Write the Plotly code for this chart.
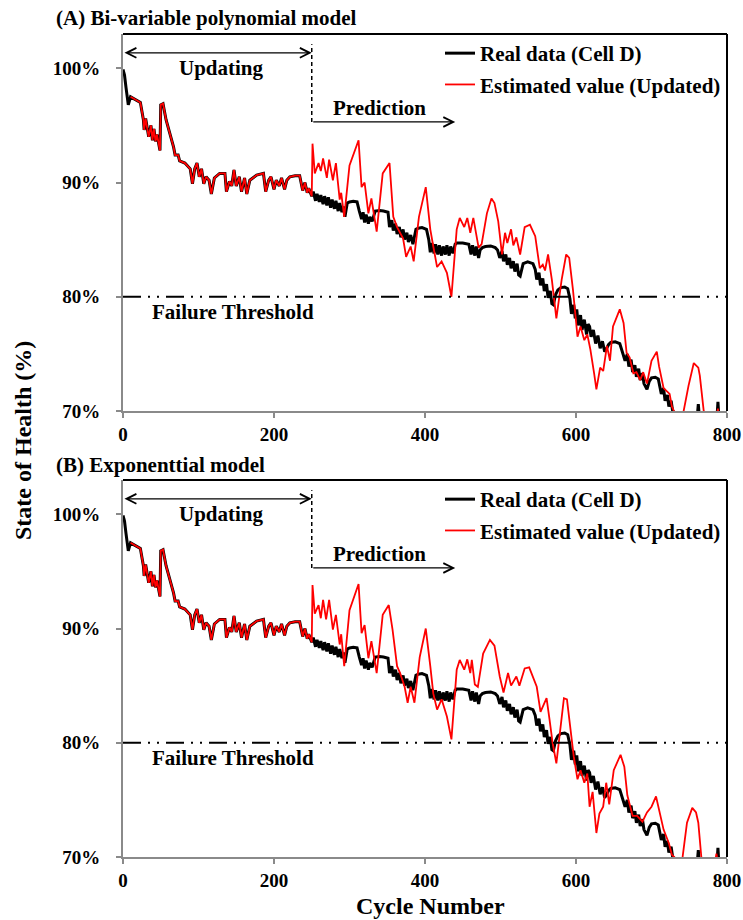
import plotly.graph_objects as go

# ---------------- data ----------------
start_cycles = [0, 2, 4, 6, 7]
start_soh = [99.9, 99.4, 98.3, 97.1, 96.8]

# updating phase (estimate follows the measured data)
update_cycles = [10, 16, 23, 27, 28, 30, 34, 37, 39, 41,
                 43, 45, 49, 50, 53, 57, 60, 63, 67, 69,
                 73, 75, 82, 89, 92, 95, 98, 101, 104, 107,
                 110, 114, 117, 121, 128, 135, 137, 141, 144, 147,
                 150, 154, 157, 161, 164, 168, 177, 186, 189, 193,
                 196, 200, 203, 207, 210, 214, 217, 221, 228, 234,
                 238, 241, 244, 246, 250]
update_soh = [97.5, 97.3, 97.0, 95.5, 94.6, 95.6, 94.0, 95.0, 93.7, 94.7,
              93.6, 94.2, 92.8, 96.8, 96.9, 95.5, 94.8, 94.0, 93.1, 92.4,
              92.4, 91.9, 91.7, 91.2, 89.9, 91.2, 91.7, 90.5, 91.2, 89.9,
              90.5, 90.2, 89.0, 90.4, 90.8, 90.8, 89.2, 90.1, 89.7, 91.1,
              89.7, 90.5, 89.2, 90.4, 89.0, 90.2, 90.65, 90.8, 89.2, 90.2,
              90.5, 89.4, 90.2, 89.7, 90.4, 89.4, 90.2, 90.5, 90.6, 90.6,
              89.3, 90.0, 89.1, 89.5, 88.8]

# measured data after cycle 250
real_pred_cycles = [252, 255, 257, 260, 262, 265, 267, 270, 272, 275,
                    277, 280, 282, 285, 287, 290, 292, 294, 297, 300,
                    305, 310, 313, 316, 318, 320, 322, 325, 327, 330,
                    334, 340, 345, 351, 353, 356, 358, 361, 363, 366,
                    368, 371, 373, 376, 378, 381, 384, 388, 391, 396,
                    402, 405, 407, 409, 412, 414, 417, 419, 422, 424,
                    427, 429, 432, 434, 437, 440, 442, 450, 458, 461,
                    463, 466, 468, 471, 473, 476, 480, 487, 493, 496,
                    499, 502, 504, 507, 509, 512, 514, 517, 519, 522,
                    524, 526, 530, 536, 543, 546, 548, 551, 553, 556,
                    558, 561, 563, 566, 568, 570, 573, 576, 580, 585,
                    589, 592, 594, 597, 599, 601, 603, 606, 608, 611,
                    614, 616, 618, 620, 623, 626, 629, 632, 635, 638,
                    640, 643, 646, 652, 658, 661, 665, 668, 670, 673,
                    675, 678, 680, 683, 685, 688, 690, 694, 697, 700,
                    705, 709, 711, 713, 716, 718, 721, 723, 726, 728,
                    732, 736, 745, 755, 760, 762, 764, 770, 780, 786,
                    788, 790]
real_pred_soh = [89.2, 88.4, 89.0, 88.3, 88.9, 88.1, 88.8, 88.0, 88.7, 87.8,
                 88.5, 87.7, 88.4, 87.5, 88.2, 87.4, 87.9, 87.0, 88.2, 88.3,
                 88.35, 88.3, 87.5, 86.8, 87.4, 86.5, 87.2, 86.4, 87.0, 86.6,
                 87.5, 87.55, 87.5, 87.4, 86.1, 86.7, 85.8, 86.4, 85.5, 86.1,
                 85.2, 85.9, 85.0, 85.6, 84.8, 85.4, 84.6, 85.9, 86.0, 86.05,
                 85.9, 85.0, 83.9, 84.7, 83.8, 84.6, 83.7, 84.5, 83.6, 84.4,
                 83.7, 84.5, 83.6, 84.4, 83.8, 84.6, 84.7, 84.7, 84.6, 83.7,
                 84.5, 83.6, 84.4, 83.4, 84.1, 84.3, 84.4, 84.45, 84.3, 84.1,
                 83.4, 84.0, 83.1, 83.7, 82.8, 83.4, 82.5, 83.1, 82.2, 82.9,
                 81.9, 81.8, 82.9, 83.05, 82.9, 82.4, 81.5, 82.1, 81.0, 81.6,
                 80.5, 81.1, 79.9, 80.5, 79.4, 79.3, 80.2, 80.6, 80.8, 80.85,
                 80.7, 79.8, 78.5, 79.3, 78.1, 78.9, 77.5, 78.4, 77.1, 78.0,
                 76.7, 77.6, 77.4, 76.5, 77.1, 75.9, 76.6, 75.5, 76.1, 75.2,
                 75.4, 75.8, 76.0, 76.05, 75.9, 75.3, 74.4, 75.0, 73.9, 74.5,
                 73.4, 74.0, 73.0, 73.7, 72.7, 73.3, 72.4, 71.9, 72.6, 72.9,
                 72.95, 72.8, 72.1, 71.5, 72.0, 70.9, 71.4, 70.4, 70.9, 70.0,
                 69.8, 69.5, 69.3, 69.2, 69.0, 70.6, 69.0, 68.8, 68.7, 68.6,
                 70.8, 68.6]

# (A) bi-variable polynomial model, estimate after cycle 250
estA_pred_cycles = [251, 254, 259, 262, 265, 270, 273, 278, 282, 287,
                    289, 293, 300, 307, 312, 316, 320, 325, 329, 336,
                    344, 353, 358, 363, 371, 375, 381, 385, 392, 401,
                    407, 411, 416, 422, 429, 435, 442, 446, 452, 456,
                    460, 464, 471, 475, 482, 488, 492, 497, 502, 506,
                    509, 514, 517, 521, 526, 532, 539, 546, 552, 556,
                    559, 563, 568, 574, 581, 587, 591, 596, 602, 606,
                    611, 615, 619, 624, 627, 632, 636, 641, 645, 649,
                    658, 663, 667, 671, 676, 680, 685, 689, 694, 700,
                    707, 710, 716, 724, 727, 731, 742, 749, 756, 762,
                    764, 769, 772, 785, 788, 790]
estA_pred_soh = [93.4, 90.8, 91.7, 91.0, 92.1, 90.4, 92.0, 90.2, 91.7, 88.5,
                 89.1, 87.0, 91.5, 92.7, 93.7, 89.6, 90.0, 87.3, 88.6, 85.7,
                 90.8, 91.7, 87.0, 86.1, 85.1, 83.5, 84.4, 83.1, 87.0, 89.6,
                 85.9, 84.4, 82.6, 83.1, 82.1, 80.0, 85.9, 86.9, 86.1, 86.9,
                 85.6, 86.9, 84.3, 84.6, 87.3, 88.6, 88.2, 86.6, 83.7, 85.6,
                 84.7, 85.9, 84.5, 85.2, 83.7, 86.1, 86.3, 85.3, 82.5, 82.8,
                 82.3, 83.7, 81.5, 78.1, 81.5, 83.7, 83.4, 80.6, 76.5, 77.4,
                 76.2, 76.7, 75.4, 73.3, 71.9, 73.8, 73.5, 75.7, 74.4, 77.4,
                 78.9, 77.7, 75.1, 74.7, 73.3, 73.4, 72.7, 73.4, 72.4, 74.4,
                 75.2, 73.9, 72.0, 71.5, 70.4, 69.8, 69.8, 72.2, 74.2, 73.8,
                 73.1, 70.1, 69.0, 69.0, 70.2, 69.0]

# (B) exponential model, estimate after cycle 250
estB_pred_cycles = [251, 254, 259, 262, 265, 269, 273, 278, 282, 287,
                    289, 293, 300, 305, 312, 316, 320, 325, 329, 336,
                    344, 352, 357, 363, 367, 373, 377, 381, 386, 393,
                    401, 407, 411, 416, 422, 429, 435, 442, 446, 452,
                    456, 460, 462, 466, 470, 477, 486, 492, 499, 504,
                    510, 514, 521, 525, 532, 538, 545, 548, 553, 557,
                    561, 565, 569, 574, 579, 584, 588, 593, 597, 602,
                    606, 611, 615, 618, 622, 627, 631, 636, 640, 644,
                    650, 659, 664, 668, 675, 681, 688, 694, 700, 706,
                    711, 716, 723, 727, 733, 741, 747, 754, 759, 762,
                    766, 770, 784, 786, 788]
estB_pred_soh = [93.8, 91.3, 92.05, 90.9, 92.5, 90.8, 92.5, 89.9, 91.2, 88.6,
                 89.5, 86.7, 91.6, 92.5, 93.9, 89.6, 90.3, 87.4, 88.9, 86.1,
                 91.2, 92.05, 89.9, 86.7, 86.1, 84.9, 83.5, 84.9, 83.5, 87.5,
                 90.0, 86.7, 84.3, 82.9, 83.8, 82.3, 80.3, 86.4, 87.25, 86.4,
                 87.3, 86.1, 87.25, 85.1, 84.9, 87.8, 89.0, 88.5, 85.8, 84.4,
                 86.1, 85.0, 85.8, 85.0, 86.5, 86.6, 85.5, 84.9, 82.7, 83.3,
                 83.9, 82.0, 80.0, 78.2, 81.1, 83.9, 83.8, 81.1, 78.8, 76.8,
                 77.6, 76.5, 77.3, 74.4, 75.7, 72.1, 73.8, 74.4, 76.5, 74.6,
                 77.6, 78.95, 77.9, 75.4, 73.6, 73.6, 73.1, 73.9, 74.4, 75.3,
                 73.9, 72.4, 71.2, 70.2, 69.8, 69.9, 73.0, 74.3, 73.9, 73.0,
                 70.0, 69.5, 69.5, 70.3, 69.5]

threshold = 80
update_end = 250
prediction_end = 440
x_ticks = [0, 200, 400, 600, 800]
y_ticks = [70, 80, 90, 100]
y_tick_text = ["70%", "80%", "90%", "100%"]
panel_titles = ["(A) Bi-variable polynomial model", "(B) Exponenttial model"]
legend_names = ["Real data (Cell D)", "Estimated value (Updated)"]

real_cycles = start_cycles + update_cycles + real_pred_cycles
real_soh = start_soh + update_soh + real_pred_soh
estimates = [(update_cycles + estA_pred_cycles, update_soh + estA_pred_soh),
             (update_cycles + estB_pred_cycles, update_soh + estB_pred_soh)]

# ---------------- figure ----------------
W, H = 743, 920
FONT = "Liberation Serif, Times New Roman, serif"
GRAY = "#8a8a8a"
TXT = 21

def px_x(p):
    return p / W

def px_y(p):
    return 1 - p / H

x_dom = [px_x(123), px_x(727)]
y_doms = [[px_y(411), px_y(34)], [px_y(857), px_y(480)]]
legend_tops = [px_y(33), px_y(479)]
title_ys = [18, 465]

fig = go.Figure()
for i in range(2):
    xa = "x" if i == 0 else "x2"
    ya = "y" if i == 0 else "y2"
    lg = "legend" if i == 0 else "legend2"
    est_c, est_v = estimates[i]
    fig.add_trace(go.Scatter(x=real_cycles, y=real_soh, mode="lines",
                             line=dict(color="black", width=3),
                             name=legend_names[0], xaxis=xa, yaxis=ya,
                             legend=lg, legendgroup=f"r{i}"))
    fig.add_trace(go.Scatter(x=est_c, y=est_v, mode="lines",
                             line=dict(color="#ff0000", width=1.8),
                             name=legend_names[1], xaxis=xa, yaxis=ya,
                             legend=lg, legendgroup=f"e{i}"))

axis_common = dict(showgrid=False, zeroline=False, showline=True,
                   linecolor=GRAY, linewidth=2, ticks="outside",
                   ticklen=5, tickwidth=1.5, tickcolor=GRAY,
                   tickfont=dict(family=FONT, size=19, color="black", weight="bold"))

layout = dict(
    width=W, height=H, autosize=False,
    margin=dict(l=0, r=0, t=0, b=0, autoexpand=False),
    paper_bgcolor="white", plot_bgcolor="white",
    font=dict(family=FONT, size=TXT, color="black", weight="bold"),
    shapes=[], annotations=[],
)
for i in range(2):
    sfx = "" if i == 0 else "2"
    layout["xaxis" + sfx] = dict(axis_common, domain=x_dom, range=[0, 800],
                                 tickvals=x_ticks, anchor="y" + sfx)
    layout["yaxis" + sfx] = dict(axis_common, domain=y_doms[i], range=[70, 103],
                                 tickvals=y_ticks, ticktext=y_tick_text,
                                 anchor="x" + sfx, ticklabelstandoff=12)
    lgname = "legend" if i == 0 else "legend2"
    layout[lgname] = dict(x=px_x(440), y=legend_tops[i], xanchor="left",
                          yanchor="top", bgcolor="rgba(0,0,0,0)",
                          font=dict(family=FONT, size=TXT, color="black", weight="bold"),
                          tracegroupgap=1, itemwidth=30)

    xr, yr = "x" + sfx, "y" + sfx
    # top and right frame (black)
    layout["shapes"].append(dict(type="line", xref=xr + " domain", yref=yr + " domain",
                                 x0=0, x1=1, y0=1, y1=1, line=dict(color="black", width=2)))
    layout["shapes"].append(dict(type="line", xref=xr + " domain", yref=yr + " domain",
                                 x0=1, x1=1, y0=0, y1=1, line=dict(color="black", width=2)))
    # failure threshold
    layout["shapes"].append(dict(type="line", xref=xr, yref=yr, x0=0, x1=800,
                                 y0=threshold, y1=threshold,
                                 line=dict(color="black", width=2.2,
                                           dash="18px,7px,2px,7px,2px,7px")))
    # dashed separator at end of updating
    layout["shapes"].append(dict(type="line", xref=xr, yref=yr, x0=update_end, x1=update_end,
                                 y0=95.3, y1=102.1,
                                 line=dict(color="black", width=1.5, dash="4px,3px")))
    # updating double arrow
    layout["annotations"].append(dict(xref=xr, yref=yr, axref=xr, ayref=yr,
                                      x=update_end, y=101.35, ax=0, ay=101.35,
                                      showarrow=True, text="", arrowhead=5, startarrowhead=5,
                                      arrowside="end+start", arrowwidth=1.2, arrowsize=1.6,
                                      startarrowsize=1.6, arrowcolor="black"))
    # prediction arrow
    layout["annotations"].append(dict(xref=xr, yref=yr, axref=xr, ayref=yr,
                                      x=prediction_end, y=95.3, ax=update_end, ay=95.3,
                                      showarrow=True, text="", arrowhead=5,
                                      arrowwidth=1.2, arrowsize=1.6, arrowcolor="black"))
    layout["annotations"].append(dict(xref=xr, yref=yr, x=131, y=100.0, text="Updating",
                                      showarrow=False, xanchor="center", yanchor="middle"))
    layout["annotations"].append(dict(xref=xr, yref=yr, x=340, y=96.5, text="Prediction",
                                      showarrow=False, xanchor="center", yanchor="middle"))
    layout["annotations"].append(dict(xref=xr, yref=yr, x=146, y=78.7,
                                      text="Failure Threshold", xanchor="center",
                                      yanchor="middle", showarrow=False))
    layout["annotations"].append(dict(xref="paper", yref="paper", x=px_x(54),
                                      y=px_y(title_ys[i]), xanchor="left", yanchor="middle",
                                      text=panel_titles[i], showarrow=False))

layout["annotations"].append(dict(xref="paper", yref="paper", x=px_x(23), y=px_y(441),
                                  xanchor="center", yanchor="middle",
                                  text="State of Health (%)", textangle=-90,
                                  showarrow=False, font=dict(size=24)))
layout["annotations"].append(dict(xref="paper", yref="paper", x=px_x(431), y=px_y(906),
                                  xanchor="center", yanchor="middle",
                                  text="Cycle Number", showarrow=False, font=dict(size=24)))

fig.update_layout(**layout)
fig.write_html("out.html")
